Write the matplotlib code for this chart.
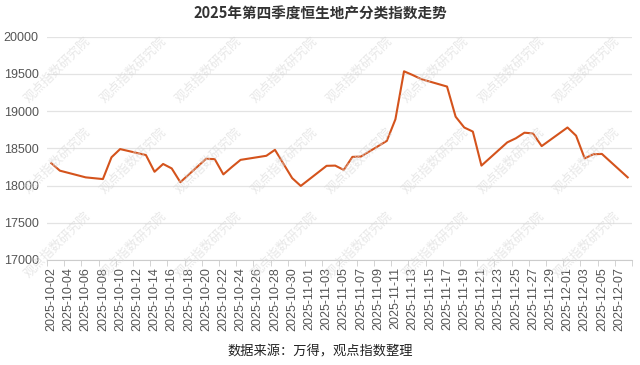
import numpy as np
import pandas as pd
import matplotlib
matplotlib.use('Agg')
import matplotlib.pyplot as plt

plt.rcParams['font.family'] = ['Liberation Sans', 'Noto Sans CJK SC', 'DejaVu Sans']

# trading days and index close
dates = ['2025-10-02', '2025-10-03', '2025-10-06', '2025-10-08', '2025-10-09', '2025-10-10',
         '2025-10-13', '2025-10-14', '2025-10-15', '2025-10-16', '2025-10-17',
         '2025-10-20', '2025-10-21', '2025-10-22', '2025-10-23', '2025-10-24',
         '2025-10-27', '2025-10-28', '2025-10-30', '2025-10-31',
         '2025-11-03', '2025-11-04', '2025-11-05', '2025-11-06', '2025-11-07',
         '2025-11-10', '2025-11-11', '2025-11-12', '2025-11-13', '2025-11-14',
         '2025-11-17', '2025-11-18', '2025-11-19', '2025-11-20', '2025-11-21',
         '2025-11-24', '2025-11-25', '2025-11-26', '2025-11-27', '2025-11-28',
         '2025-12-01', '2025-12-02', '2025-12-03', '2025-12-04', '2025-12-05',
         '2025-12-08']
values = [18300, 18200, 18110, 18087, 18380, 18490,
          18410, 18185, 18290, 18230, 18045,
          18360, 18355, 18150, 18250, 18345,
          18400, 18480, 18100, 17995,
          18265, 18268, 18210, 18385, 18390,
          18600, 18890, 19535, 19485, 19430,
          19330, 18925, 18780, 18725, 18268,
          18580, 18635, 18710, 18700, 18530,
          18780, 18670, 18365, 18420, 18425,
          18110]

title = '2025年第四季度恒生地产分类指数走势'
source = '数据来源：万得，观点指数整理'
watermark = '观点指数研究院'

# calendar-day category axis
calendar = pd.date_range('2025-10-02', '2025-12-08', freq='D')
cat_index = {d.strftime('%Y-%m-%d'): i for i, d in enumerate(calendar)}
x = [cat_index[d] for d in dates]

fig = plt.figure(figsize=(6.4, 3.65), dpi=100)
ax = fig.add_axes([0.0734, 0.2877, 0.9141, 0.6118])

ax.plot(x, values, color='#d4531c', linewidth=1.5, zorder=3)

ax.set_xlim(-0.5, len(calendar) - 0.5)
ax.set_ylim(17000, 20000)
ax.set_yticks(np.arange(17000, 20001, 500))
ax.yaxis.grid(True, color='#e3e3e3', linewidth=0.9)
ax.set_axisbelow(True)

label_pos = np.arange(0, len(calendar), 2)
ax.set_xticks(label_pos)
ax.set_xticklabels([calendar[i].strftime('%Y-%m-%d') for i in label_pos],
                   rotation=90, fontsize=9, color='#555555')
ax.tick_params(axis='x', length=0, pad=5)
ax.set_xticks(np.arange(-0.5, len(calendar), 2), minor=True)
ax.tick_params(axis='x', which='minor', length=4, color='#cccccc')
ax.tick_params(axis='y', length=0, labelsize=9, labelcolor='#555555', pad=6)

for s in ['top', 'right', 'left']:
    ax.spines[s].set_visible(False)
ax.spines['bottom'].set_color('#cccccc')

fig.text(0.5, 0.962, title, ha='center', va='center', fontsize=10.5,
         fontweight='bold', color='#333333', family=['Noto Sans CJK SC'])
fig.text(0.5, 0.035, source, ha='center', va='center', fontsize=9.5,
         color='#222222', family=['Noto Sans CJK SC'])

# faint watermark grid
for wy in [0.81, 0.56, 0.33]:
    for wx in np.arange(0.09, 1.0, 0.118):
        fig.text(wx, wy, watermark, ha='center', va='center', rotation=45,
                 fontsize=9, color='#d8d8d8', alpha=0.6,
                 family=['Noto Sans CJK SC'], zorder=0)

fig.savefig('out.png', dpi=100)
